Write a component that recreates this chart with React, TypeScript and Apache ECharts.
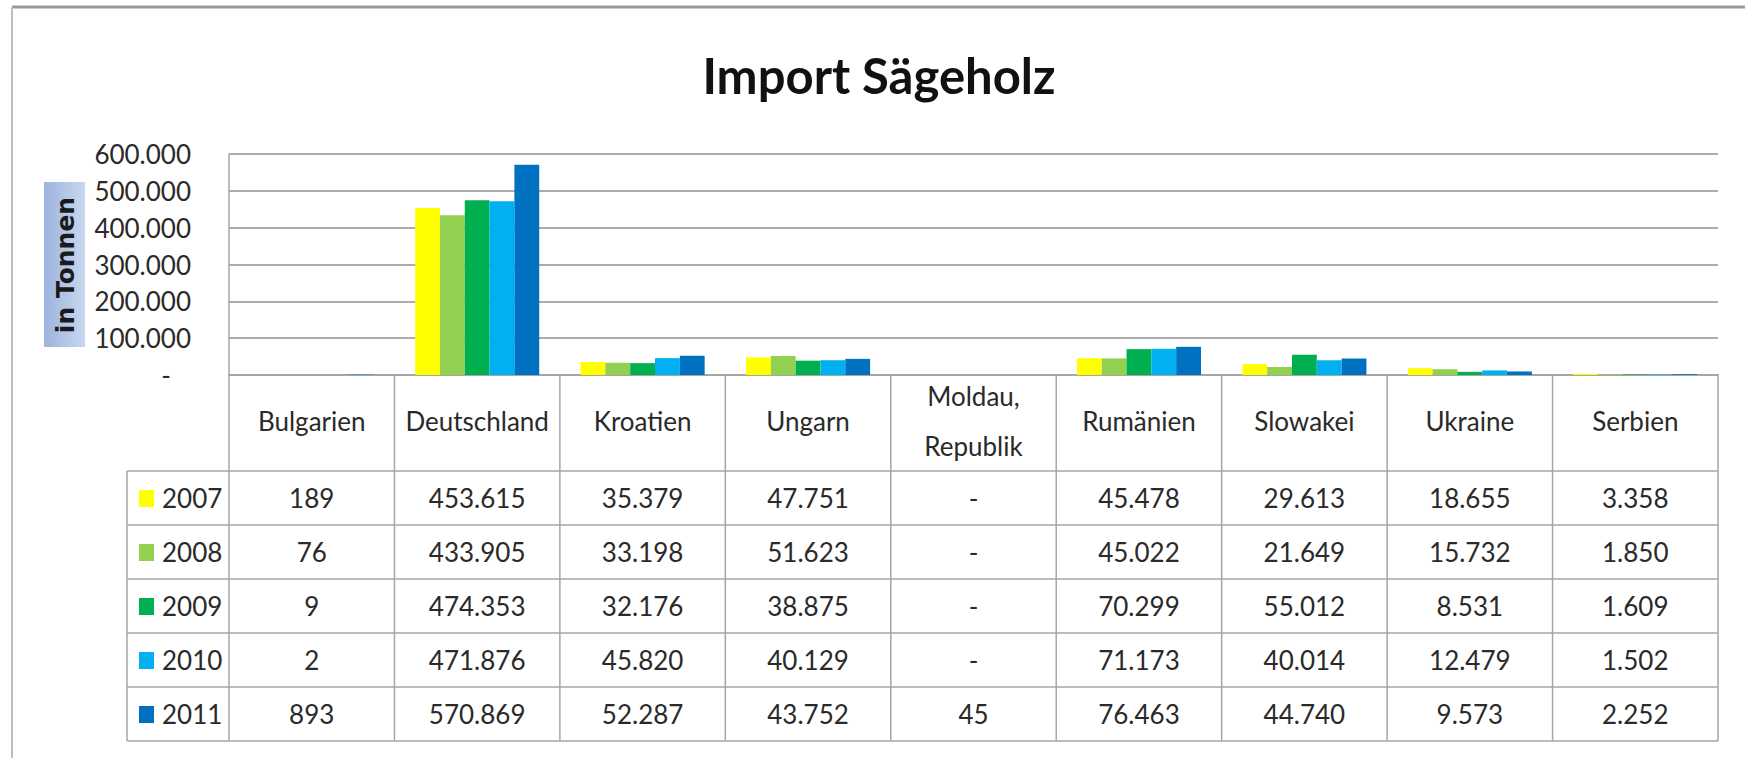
import React, { useEffect, useRef } from "react";
import * as echarts from "echarts";

const title = "Import Sägeholz";
const yAxisTitle = "in Tonnen";
const categories = [
  "Bulgarien",
  "Deutschland",
  "Kroatien",
  "Ungarn",
  "Moldau,\nRepublik",
  "Rumänien",
  "Slowakei",
  "Ukraine",
  "Serbien",
];
const years = ["2007", "2008", "2009", "2010", "2011"];
const colors = ["#FFFF00", "#92D050", "#00B050", "#00B0F0", "#0070C0"];
const v2007 = [189, 453615, 35379, 47751, null, 45478, 29613, 18655, 3358];
const v2008 = [76, 433905, 33198, 51623, null, 45022, 21649, 15732, 1850];
const v2009 = [9, 474353, 32176, 38875, null, 70299, 55012, 8531, 1609];
const v2010 = [2, 471876, 45820, 40129, null, 71173, 40014, 12479, 1502];
const v2011 = [893, 570869, 52287, 43752, 45, 76463, 44740, 9573, 2252];
const seriesValues = [v2007, v2008, v2009, v2010, v2011];
const yTicks = { min: 0, max: 600000, interval: 100000 };

const FONT = "Lato";
const LINE = "#a6a6a6";
const TEXT = "#2a2a2a";

function fmt(v: number | null): string {
  if (v == null || v === 0) return "-";
  return String(v).replace(/\B(?=(\d{3})+(?!\d))/g, ".");
}

export default function App() {
  const ref = useRef<HTMLDivElement>(null);
  useEffect(() => {
    if (!ref.current) return;
    const chart = echarts.init(ref.current, null, { renderer: "svg" });
    const option: any = {
      animation: false,
      backgroundColor: "#ffffff",
      textStyle: { fontFamily: FONT },
      title: {
        text: title,
        left: 874,
        top: 45,
        textAlign: "center",
        textStyle: { fontFamily: FONT, fontWeight: "bold", fontSize: 49, color: "#111111" },
      },
      grid: { left: 229, right: 27, top: 154, bottom: 383, containLabel: false },
      xAxis: {
        type: "category",
        data: categories,
        axisLine: { show: true, lineStyle: { color: LINE, width: 2 } },
        axisTick: { show: false },
        axisLabel: {
          interval: 0,
          margin: 46,
          verticalAlign: "middle",
          lineHeight: 50,
          fontFamily: FONT,
          fontSize: 26,
          color: TEXT,
        },
      },
      yAxis: {
        type: "value",
        min: yTicks.min,
        max: yTicks.max,
        interval: yTicks.interval,
        axisLine: { show: true, lineStyle: { color: LINE, width: 1.5 } },
        axisTick: { show: false },
        splitLine: { show: true, lineStyle: { color: "#acacac", width: 2 } },
        axisLabel: {
          margin: 38,
          fontFamily: FONT,
          fontSize: 26,
          color: TEXT,
          formatter: (v: number) => (v === 0 ? "-\u00A0\u00A0\u00A0" : fmt(v)),
        },
      },
      series: years.map((y, i) => ({
        name: y,
        type: "bar",
        data: seriesValues[i],
        itemStyle: { color: colors[i] },
        barGap: "0%",
        barCategoryGap: "25%",
      })),
    };
    chart.setOption(option);

    // table geometry from the chart's own scales
    const c0 = chart.convertToPixel({ xAxisIndex: 0 }, 0) as number;
    const c1 = chart.convertToPixel({ xAxisIndex: 0 }, 1) as number;
    const bw = c1 - c0;
    const xLeft = c0 - bw / 2;
    const xRight = xLeft + bw * categories.length;
    const yZero = chart.convertToPixel({ yAxisIndex: 0 }, 0) as number;
    const headerH = 96;
    const rowH = 54;
    const legendLeft = 127;
    const rowsTop = yZero + headerH;
    const tableBottom = rowsTop + rowH * years.length;
    const lineStyle = { stroke: LINE, lineWidth: 1.5 };

    const g: any[] = [];
    // outer frame
    g.push({ type: "line", shape: { x1: 12, y1: 7, x2: 1745, y2: 7 }, style: { stroke: "#999999", lineWidth: 3 }, silent: true });
    g.push({ type: "line", shape: { x1: 12, y1: 7, x2: 12, y2: 758 }, style: { stroke: "#bdbdbd", lineWidth: 2 }, silent: true });
    // y-axis title box
    g.push({
      type: "rect",
      shape: { x: 44, y: 182, width: 41, height: 165 },
      style: {
        fill: new echarts.graphic.LinearGradient(0, 0, 1, 0, [
          { offset: 0, color: "#9db4df" },
          { offset: 1, color: "#c9d7ef" },
        ]),
      },
      silent: true,
    });
    g.push({
      type: "text",
      x: 65,
      y: 265,
      rotation: Math.PI / 2,
      style: {
        text: yAxisTitle,
        fontFamily: "DejaVu Sans",
        fontWeight: "bold",
        fontSize: 25,
        fill: "#1a1a1a",
        align: "center",
        verticalAlign: "middle",
      },
      silent: true,
    });
    // vertical table lines
    for (let i = 0; i <= categories.length; i++) {
      const x = xLeft + bw * i;
      g.push({ type: "line", shape: { x1: x, y1: yZero, x2: x, y2: tableBottom }, style: lineStyle, silent: true });
    }
    g.push({ type: "line", shape: { x1: legendLeft, y1: rowsTop, x2: legendLeft, y2: tableBottom }, style: lineStyle, silent: true });
    // horizontal row lines
    for (let j = 0; j <= years.length; j++) {
      const y = rowsTop + rowH * j;
      g.push({ type: "line", shape: { x1: legendLeft, y1: y, x2: xRight, y2: y }, style: lineStyle, silent: true });
    }
    // legend keys in the table
    years.forEach((yr, j) => {
      const cy = rowsTop + rowH * j + rowH / 2;
      g.push({ type: "rect", shape: { x: 139, y: cy - 8, width: 15, height: 17 }, style: { fill: colors[j] }, silent: true });
      g.push({
        type: "text",
        x: 162,
        y: cy,
        style: { text: yr, fontFamily: FONT, fontSize: 26, fill: TEXT, align: "left", verticalAlign: "middle" },
        silent: true,
      });
    });
    // cell values
    seriesValues.forEach((vals, j) => {
      vals.forEach((v, i) => {
        g.push({
          type: "text",
          x: c0 + bw * i,
          y: rowsTop + rowH * j + rowH / 2,
          style: {
            text: fmt(v),
            fontFamily: FONT,
            fontSize: 26,
            fill: TEXT,
            align: "center",
            verticalAlign: "middle",
          },
          silent: true,
        });
      });
    });
    chart.setOption({ graphic: g });

    return () => chart.dispose();
  }, []);
  return (
    <div
      ref={ref}
      style={{ position: "fixed", left: 0, top: 0, width: 1745, height: 758 }}
    />
  );
}
